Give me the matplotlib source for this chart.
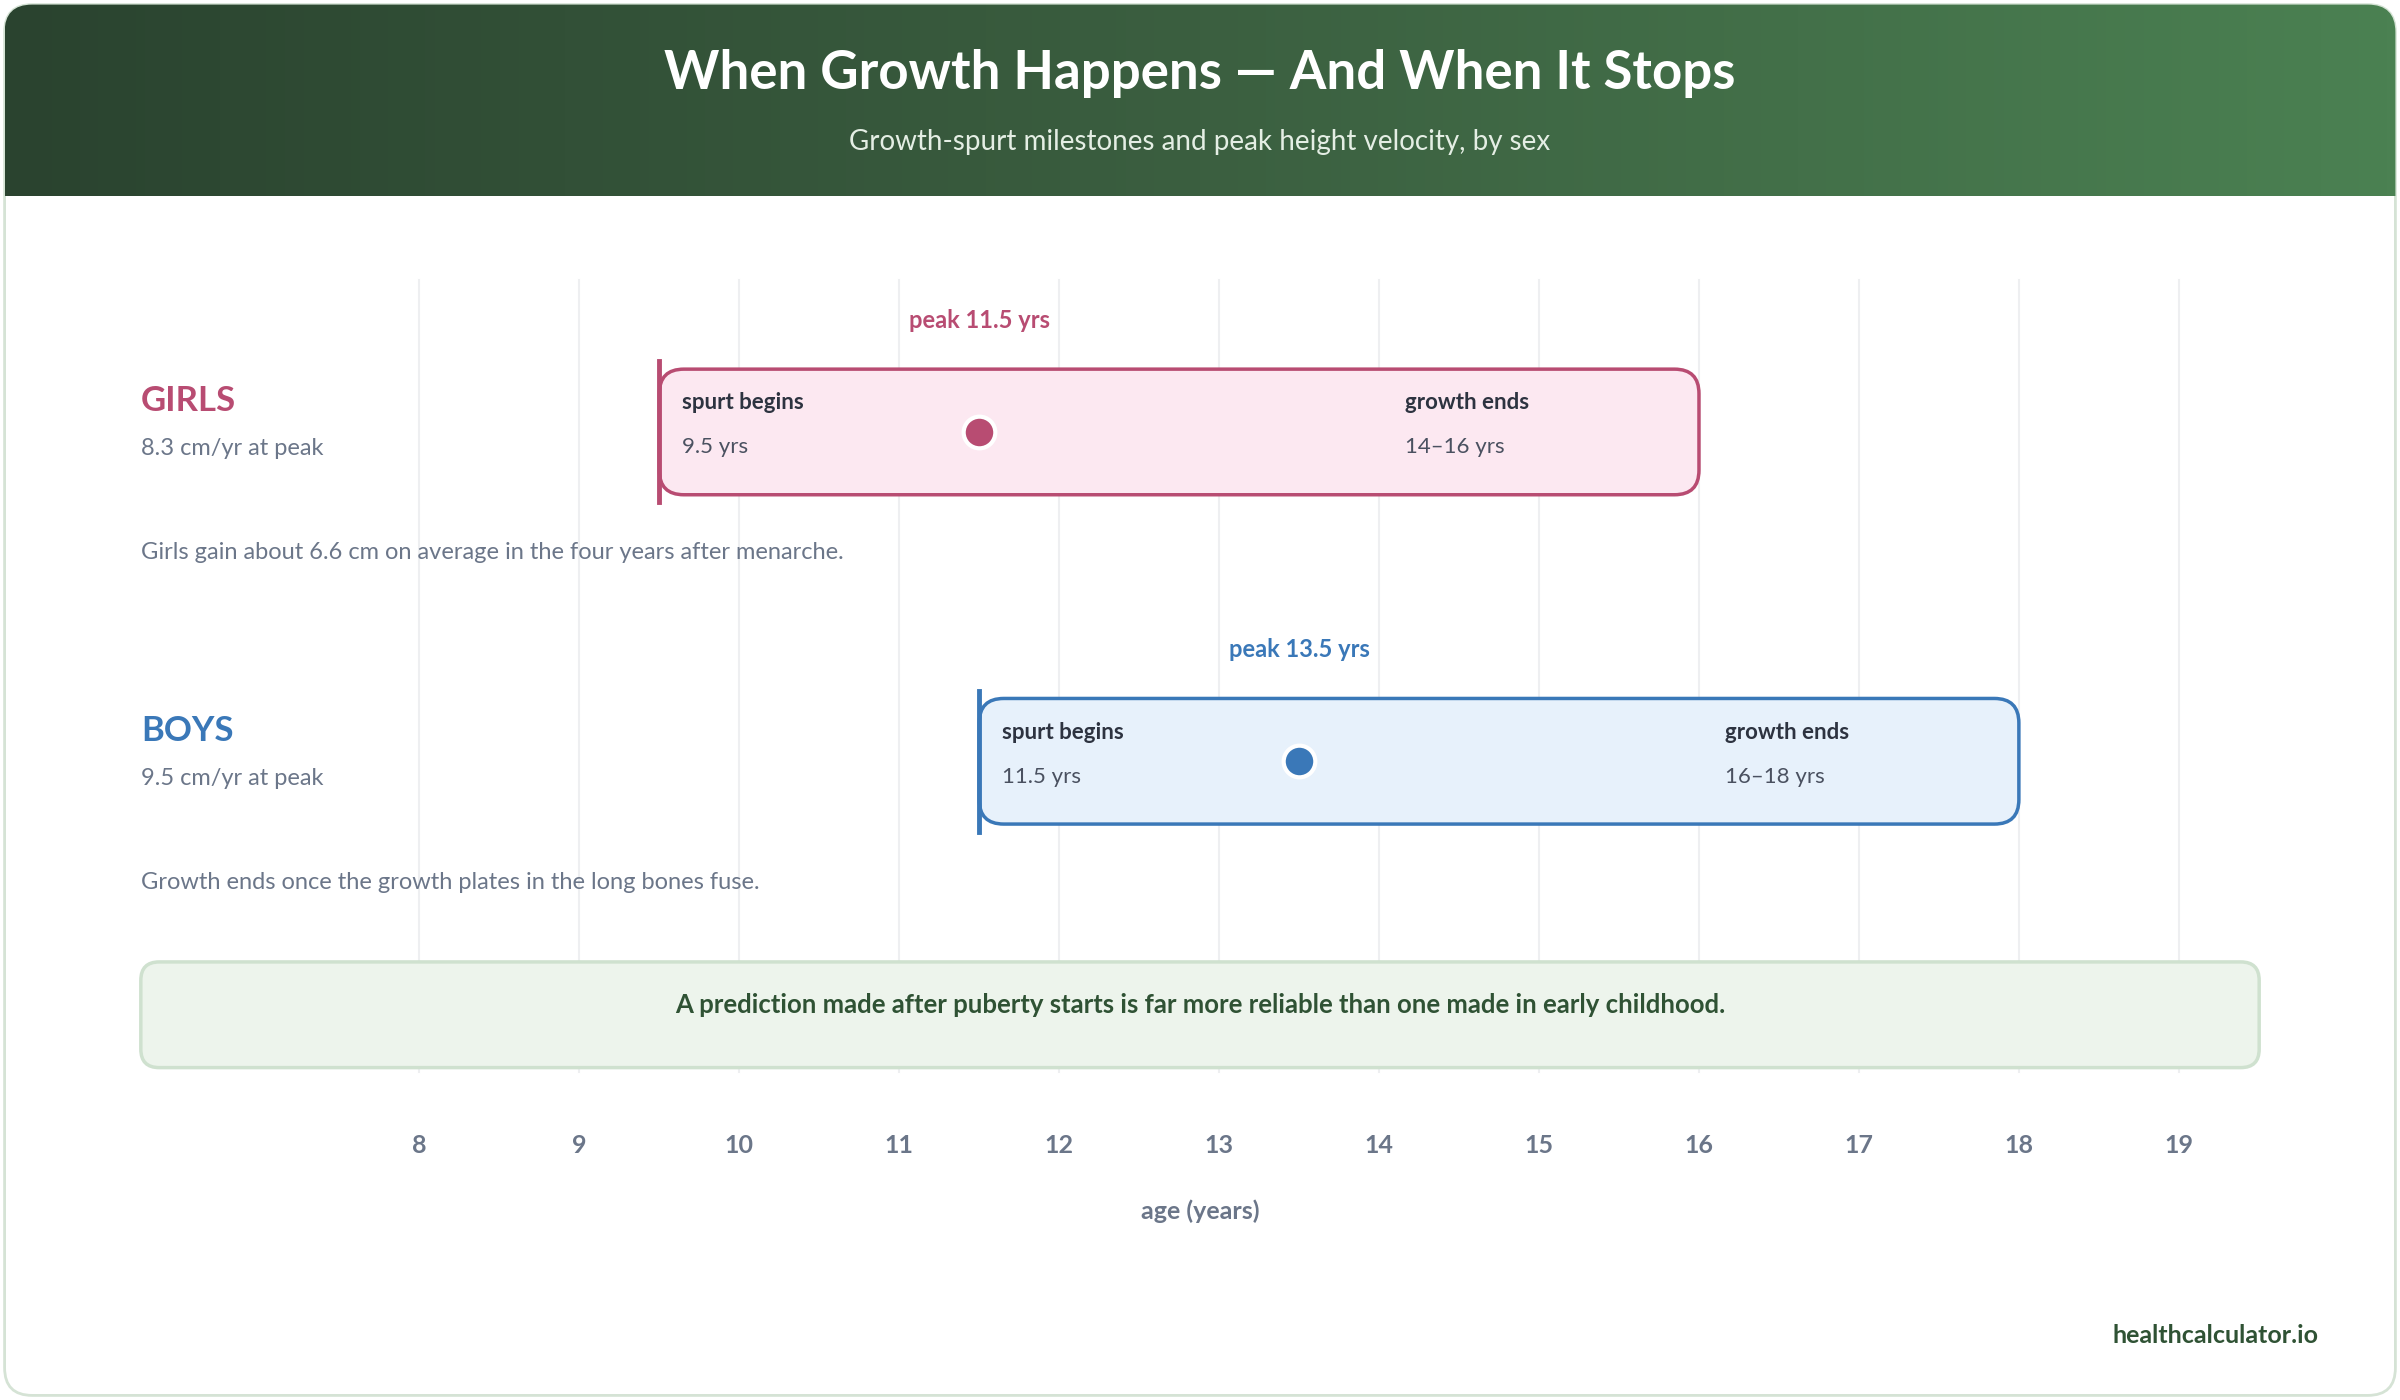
import numpy as np
import matplotlib
matplotlib.use("Agg")
import matplotlib.pyplot as plt
from matplotlib.patches import FancyBboxPatch, Rectangle
from matplotlib.colors import LinearSegmentedColormap

plt.rcParams['font.family'] = ['Lato', 'DejaVu Sans']

groups = ["GIRLS", "BOYS"]
velocity = ["8.3 cm/yr at peak", "9.5 cm/yr at peak"]
spurt_start = [9.5, 11.5]
peak_age = [11.5, 13.5]
growth_end = [16, 18]
end_labels = ["14–16 yrs", "16–18 yrs"]
start_labels = ["9.5 yrs", "11.5 yrs"]
notes = ["Girls gain about 6.6 cm on average in the four years after menarche.",
         "Growth ends once the growth plates in the long bones fuse."]
ticks = list(range(8, 20))

edge_c = ["#b84c72", "#3a78b8"]
fill_c = ["#fce8f1", "#e7f1fb"]

W, H = 1568, 914
PPY = 104.5
def a(px):  # layout pixel -> age axis
    return 8 + (px - 274) / PPY

fig = plt.figure(figsize=(24, 14), dpi=100)
ax = fig.add_axes([0, 0, 1, 1])
ax.set_xlim(a(0), a(W)); ax.set_ylim(H, 0); ax.axis('off')
asp = PPY

# card
card = FancyBboxPatch((a(3), 3), 1562 / PPY, 908, boxstyle="round,pad=0,rounding_size=%f" % (18 / PPY),
                      mutation_aspect=asp, fc="white", ec="#d5e3d5", lw=2, zorder=0)
ax.add_patch(card)
cmap = LinearSegmentedColormap.from_list("g", ["#2a432f", "#3b5f40", "#4b8152"])
im = ax.imshow(np.linspace(0, 1, 256)[None, :], cmap=cmap, aspect='auto',
               extent=(a(3), a(1565), 128, 3), zorder=1)
im.set_clip_path(card)
ax.text(a(784), 48, "When Growth Happens — And When It Stops", color="white", fontsize=38,
        fontweight="bold", ha="center", va="center", zorder=2)
ax.text(a(784), 93, "Growth-spurt milestones and peak height velocity, by sex", color="#e4eee4",
        fontsize=20, ha="center", va="center", zorder=2)

# grid
for t in ticks:
    ax.plot([t, t], [183, 700], color="#eeeff1", lw=1.5, zorder=1)
    ax.text(t, 748, str(t), ha="center", va="center", fontsize=18, color="#6b7689", fontweight="bold")
ax.text(a(784), 791, "age (years)", ha="center", va="center", fontsize=18, color="#6b7689", fontweight="bold")

tops = [241, 456]
for i in range(2):
    y0 = tops[i]; h = 82; yc = y0 + h / 2
    ax.text(a(92), yc - 20, groups[i], color=edge_c[i], fontsize=25, fontweight="bold", va="center")
    ax.text(a(92), yc + 11, velocity[i], color="#6b7689", fontsize=17, va="center")
    ax.text(a(92), yc + 79, notes[i], color="#6b7689", fontsize=17, va="center")
    box = FancyBboxPatch((spurt_start[i], y0), growth_end[i] - spurt_start[i], h,
                         boxstyle="round,pad=0,rounding_size=%f" % (16 / PPY), mutation_aspect=asp,
                         fc=fill_c[i], ec=edge_c[i], lw=2.5, zorder=2)
    ax.add_patch(box)
    ax.plot([spurt_start[i]] * 2, [y0 - 5, y0 + h + 5], color=edge_c[i], lw=3.5, zorder=3)
    ax.scatter([peak_age[i]], [yc], s=520, color=edge_c[i], edgecolors="white", linewidths=3, zorder=4)
    ax.text(peak_age[i], y0 - 32, "peak %g yrs" % peak_age[i], color=edge_c[i], fontsize=17,
            fontweight="bold", ha="center", va="center")
    ax.text(spurt_start[i] + 15 / PPY, y0 + 22, "spurt begins", fontsize=16, fontweight="bold",
            color="#2d3340", va="center", zorder=5)
    ax.text(spurt_start[i] + 15 / PPY, y0 + 51, start_labels[i], fontsize=16, color="#4a5160",
            va="center", zorder=5)
    ax.text(growth_end[i] - 1.84, y0 + 22, "growth ends", fontsize=16, fontweight="bold",
            color="#2d3340", va="center", zorder=5)
    ax.text(growth_end[i] - 1.84, y0 + 51, end_labels[i], fontsize=16, color="#4a5160",
            va="center", zorder=5)

note = FancyBboxPatch((a(92), 628), (1476 - 92) / PPY, 69, boxstyle="round,pad=0,rounding_size=%f" % (12 / PPY),
                      mutation_aspect=asp, fc="#edf4ec", ec="#cfe1cf", lw=2.5, zorder=2)
ax.add_patch(note)
ax.text(a(784), 656, "A prediction made after puberty starts is far more reliable than one made in early childhood.",
        ha="center", va="center", fontsize=18.5, fontweight="bold", color="#2f5234", zorder=3)
ax.text(a(1515), 872, "healthcalculator.io", ha="right", va="center", fontsize=18, fontweight="bold",
        color="#2f5234")

fig.savefig("out.png", dpi=100)
